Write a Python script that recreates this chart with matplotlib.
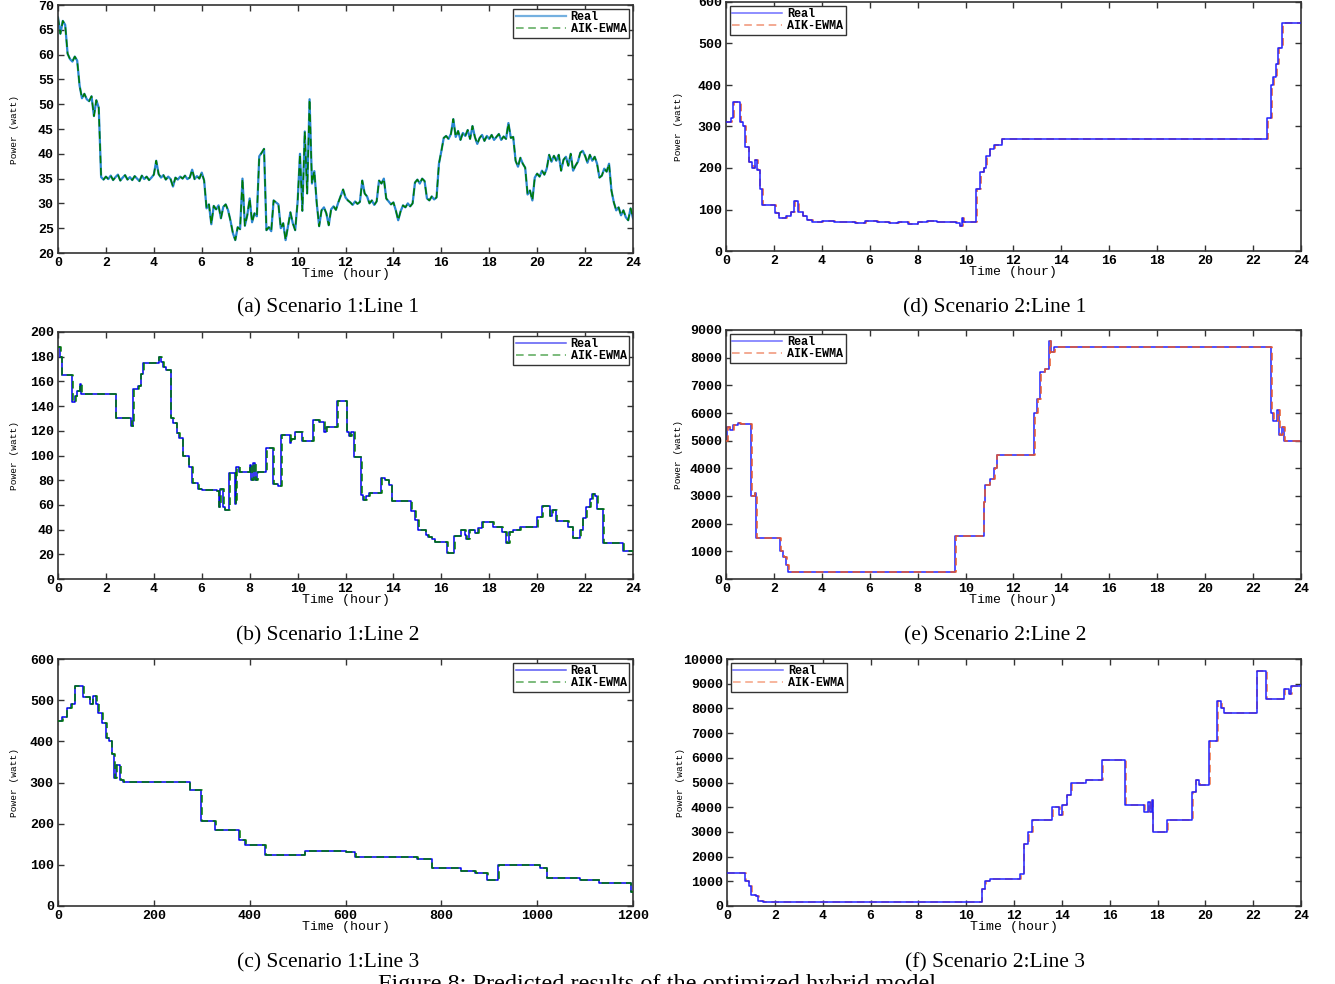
import numpy as np
import matplotlib
matplotlib.use('Agg')
import matplotlib.pyplot as plt

plt.rcParams['font.family'] = ['Liberation Mono', 'DejaVu Sans Mono']
plt.rcParams['font.weight'] = 'bold'

# Scenario 1 line 1 : one value every 0.1 hour (0 .. 24 h)
s1_line1 = [
    67.5, 64.2, 66.8, 66.0, 60.2, 59.1, 58.6, 59.6, 58.8, 53.8,
    51.2, 52.1, 51.0, 50.6, 51.6, 47.6, 50.8, 49.3, 35.3, 34.8,
    35.4, 34.9, 35.6, 34.7, 35.3, 35.8, 34.6, 35.2, 35.7, 34.8,
    35.3, 34.7, 35.5, 35.0, 34.5, 35.6, 34.9, 35.4, 34.7, 35.2,
    35.8, 38.6, 35.9, 35.2, 35.7, 34.8, 35.4, 34.9, 33.4, 35.2,
    34.8, 35.4, 35.0, 35.6, 34.9, 35.2, 36.8, 34.9, 35.5, 35.0,
    36.2, 34.6, 29.0, 29.8, 25.8, 29.5, 28.8, 29.6, 27.0, 29.3,
    29.8, 28.6, 26.5, 24.0, 22.6, 25.2, 24.8, 35.0, 25.5, 27.6,
    31.0, 26.2, 28.0, 27.4, 39.5, 40.2, 41.0, 24.6, 25.2, 24.4,
    30.6, 30.2, 29.8, 25.0, 26.0, 22.6, 25.4, 28.2, 26.0, 24.6,
    30.2, 40.0, 28.5, 44.5, 32.0, 51.0, 34.0, 36.5, 30.0, 25.4,
    28.6, 29.2, 28.0, 25.6, 28.8, 29.4, 28.7, 30.2, 31.5, 32.8,
    31.2, 30.6, 30.2, 29.7, 30.4, 29.9, 30.3, 34.6, 32.0, 31.4,
    30.0, 30.6, 29.7, 30.4, 34.6, 34.0, 35.0, 31.0, 30.4, 29.8,
    30.2, 28.6, 26.6, 28.4, 29.6, 29.2, 30.0, 29.4, 30.0, 34.2,
    34.8, 34.0, 35.0, 34.5, 31.0, 30.6, 31.4, 30.8, 31.2, 38.0,
    40.5, 43.2, 43.6, 43.0, 44.0, 47.0, 43.4, 44.6, 42.8, 44.2,
    43.6, 44.8, 43.0, 45.6, 43.4, 42.0, 43.2, 43.8, 42.6, 43.6,
    43.0, 43.8, 42.8, 43.4, 44.0, 42.8, 43.5, 43.0, 46.2, 43.2,
    43.4, 38.6, 37.4, 39.2, 38.0, 37.2, 31.8, 32.6, 30.6, 35.2,
    36.0, 35.4, 36.6, 35.8, 37.0, 39.8, 38.4, 39.6, 38.6, 39.8,
    36.6, 38.8, 39.4, 37.6, 40.0, 36.6, 37.6, 38.4, 40.2, 40.6,
    39.6, 38.2, 39.8, 38.6, 39.4, 38.0, 35.2, 35.6, 37.0, 36.4,
    38.0, 32.6, 30.2, 28.6, 29.2, 27.6, 28.6, 27.2, 26.6, 29.0,
    27.0,
]

# the other lines are step-like: (time, power) at every change
s1_line2 = [(0, 188), (0.08, 180), (0.15, 165), (0.6, 143), (0.72, 148), (0.8, 152),
            (0.9, 158), (0.98, 150), (2.4, 130), (3.05, 124), (3.15, 154), (3.35, 156),
            (3.45, 166), (3.55, 175), (4.2, 180), (4.3, 176), (4.4, 172), (4.5, 169),
            (4.7, 130), (4.8, 126), (4.95, 118), (5.05, 114), (5.2, 100), (5.45, 91),
            (5.6, 78), (5.85, 73), (6.0, 72), (6.62, 71), (6.7, 58), (6.78, 73),
            (6.88, 58), (6.95, 56), (7.15, 86), (7.4, 61), (7.44, 91), (7.55, 87),
            (8.0, 92), (8.05, 80), (8.15, 94), (8.22, 80), (8.3, 87), (8.7, 106),
            (8.98, 77), (9.2, 75), (9.3, 117), (9.68, 110), (9.72, 113), (9.88, 119),
            (10.2, 112), (10.65, 129), (10.9, 127), (11.1, 119), (11.2, 123), (11.65, 144),
            (12.05, 119), (12.15, 116), (12.25, 119), (12.35, 99), (12.65, 68), (12.75, 64),
            (12.85, 67), (13.0, 70), (13.5, 82), (13.65, 80), (13.8, 76), (13.92, 63),
            (14.75, 55), (14.92, 48), (15.02, 40), (15.35, 36), (15.45, 34), (15.6, 32),
            (15.72, 30), (16.24, 21), (16.52, 35), (16.8, 40), (17.0, 36), (17.05, 32),
            (17.15, 40), (17.4, 37), (17.55, 41), (17.7, 46), (18.15, 42), (18.55, 38),
            (18.7, 29), (18.82, 38), (19.0, 40), (19.3, 42), (20.0, 50), (20.2, 59),
            (20.45, 59), (20.52, 51), (20.62, 56), (20.8, 47), (21.3, 42), (21.48, 33),
            (21.78, 40), (21.9, 49), (22.05, 58), (22.2, 65), (22.3, 69), (22.4, 67),
            (22.5, 57), (22.75, 29), (23.6, 23), (24, 23)]

s1_line3 = [(0, 450), (8, 460), (18, 480), (28, 490), (35, 535), (52, 508), (66, 490),
            (72, 510), (79, 490), (84, 470), (92, 445), (100, 408), (106, 400), (112, 370),
            (117, 311), (122, 342), (130, 305), (136, 302), (275, 282), (298, 206),
            (328, 185), (378, 160), (390, 147), (432, 124), (515, 134), (600, 130),
            (620, 120), (750, 115), (780, 92), (840, 86), (870, 80), (895, 62), (918, 100),
            (1005, 92), (1020, 68), (1090, 63), (1130, 56), (1195, 33), (1200, 33)]

s2_line1 = [(0, 310), (0.2, 320), (0.3, 360), (0.6, 310), (0.7, 300), (0.8, 250),
            (0.95, 215), (1.1, 200), (1.2, 220), (1.3, 195), (1.4, 150), (1.5, 110),
            (2.05, 92), (2.2, 80), (2.5, 84), (2.7, 95), (2.85, 120), (3.0, 95), (3.2, 85),
            (3.4, 75), (3.6, 70), (4.0, 72), (4.5, 69), (5.0, 71), (5.4, 68), (5.8, 72),
            (6.3, 70), (6.8, 68), (7.2, 71), (7.6, 66), (8.0, 70), (8.4, 72), (8.8, 69),
            (9.2, 70), (9.6, 68), (9.75, 60), (9.85, 80), (9.9, 70), (10.45, 150),
            (10.6, 190), (10.75, 200), (10.85, 230), (11.0, 245), (11.2, 255), (11.5, 270),
            (22.6, 320), (22.75, 400), (22.85, 420), (22.95, 450), (23.05, 490),
            (23.2, 550), (24, 550)]

s2_line2 = [(0, 5000), (0.05, 5500), (0.15, 5400), (0.3, 5550), (0.5, 5650), (0.6, 5600),
            (1.05, 3000), (1.2, 3100), (1.25, 1500), (2.25, 1000), (2.4, 800), (2.5, 500),
            (2.6, 250), (9.55, 1550), (10.75, 2800), (10.8, 3400), (11.0, 3600),
            (11.2, 4000), (11.3, 4500), (12.85, 6000), (13.0, 6500), (13.1, 7500),
            (13.3, 7600), (13.5, 8600), (13.55, 8200), (13.7, 8400), (22.75, 6000),
            (22.85, 5700), (23.0, 6100), (23.1, 5200), (23.2, 5500), (23.3, 5000), (24, 5000)]

s2_line3 = [(0, 1350), (0.75, 1000), (0.9, 800), (1.0, 450), (1.2, 400), (1.3, 200),
            (1.5, 150), (10.65, 700), (10.8, 1000), (11.0, 1100), (12.25, 1300),
            (12.4, 2500), (12.6, 3000), (12.75, 3500), (13.6, 4000), (13.9, 3700),
            (14.0, 4100), (14.2, 4500), (14.4, 5000), (15.0, 5100), (15.7, 5900),
            (16.65, 4100), (17.45, 3800), (17.6, 4200), (17.7, 3800), (17.75, 4300),
            (17.8, 3000), (18.4, 3500), (19.45, 4600), (19.6, 5100), (19.75, 4900),
            (20.15, 6700), (20.5, 8300), (20.65, 8000), (20.8, 7800), (22.15, 9500),
            (22.55, 8400), (23.3, 8800), (23.5, 8600), (23.6, 8900), (24, 8950)]

captions = ['(a) Scenario 1:Line 1', '(b) Scenario 1:Line 2', '(c) Scenario 1:Line 3',
            '(d) Scenario 2:Line 1', '(e) Scenario 2:Line 2', '(f) Scenario 2:Line 3']
hour_ticks = list(range(0, 25, 2))

fig = plt.figure(figsize=(13.35, 9.84), dpi=100)

# axes boxes in pixels (left, top, right, bottom) taken from the page
boxes = [(58, 5, 633, 253), (58, 332, 633, 579), (58, 659, 633, 906),
         (726, 2, 1301, 251), (726, 330, 1301, 579), (727, 659, 1301, 906)]
W, H = 1335., 984.
axs = [fig.add_axes([l / W, 1 - b / H, (r - l) / W, (b - t) / H]) for l, t, r, b in boxes]


def style(ax, xlim, xticks, ylim, yticks, ylab_x):
    ax.set_xlim(xlim)
    ax.set_xticks(xticks)
    ax.set_ylim(ylim)
    ax.set_yticks(yticks)
    ax.tick_params(direction='in', top=True, right=True, length=4, width=1,
                   labelsize=9.5, pad=3, color='#333333')
    for s in ax.spines.values():
        s.set_linewidth(1.2)
        s.set_color('#333333')
    ax.set_xlabel('Time (hour)', fontsize=9.5, labelpad=-1)
    ax.set_ylabel('Power (watt)', fontsize=6.8)
    ax.yaxis.set_label_coords(ylab_x, 0.5)


def add_legend(ax, loc):
    leg = ax.legend(loc=loc, fontsize=8.5, handlelength=4.2, fancybox=False,
                    edgecolor='#333333', borderpad=0.25, labelspacing=0.0,
                    borderaxespad=0.3, handletextpad=0.4, framealpha=1)
    leg.get_frame().set_linewidth(1)
    for ln in leg.get_lines():
        ln.set_alpha(0.65)


def steps(ax, data, c_real, c_pred, real_on_top, lag=0.03):
    t = [p[0] for p in data]
    v = [p[1] for p in data]
    tp = [x + lag if x > 0 else x for x in t]   # forecast lags a little behind
    zr, zp = (3, 2) if real_on_top else (2, 3)
    ax.plot(t, v, drawstyle='steps-post', color=c_real, lw=1.1, label='Real', zorder=zr)
    ax.plot(tp, v, drawstyle='steps-post', color=c_pred, lw=1.1, dashes=(5, 3),
            label='AIK-EWMA', zorder=zp)


# (a)
ax = axs[0]
t_a = np.linspace(0, 24, len(s1_line1))
ax.plot(t_a, s1_line1, color='#2a86d0', lw=1.6, label='Real')
ax.plot(t_a, s1_line1, color='#007a00', lw=1.1, dashes=(5, 3), label='AIK-EWMA')
style(ax, (0, 24), hour_ticks, (20, 70), range(20, 71, 5), -0.068)
add_legend(ax, 'upper right')

# (b)
ax = axs[1]
steps(ax, s1_line2, '#0000ee', '#007a00', False)
style(ax, (0, 24), hour_ticks, (0, 200), range(0, 201, 20), -0.068)
add_legend(ax, 'upper right')

# (c) - x axis here runs 0..1200
ax = axs[2]
steps(ax, s1_line3, '#0000ee', '#007a00', False, lag=1.5)
style(ax, (0, 1200), range(0, 1201, 200), (0, 600), range(0, 601, 100), -0.068)
add_legend(ax, 'upper right')

# (d)
ax = axs[3]
steps(ax, s2_line1, '#2222ff', '#e8582a', True)
style(ax, (0, 24), hour_ticks, (0, 600), range(0, 601, 100), -0.074)
add_legend(ax, 'upper left')

# (e)
ax = axs[4]
steps(ax, s2_line2, '#2222ff', '#e8582a', False)
style(ax, (0, 24), hour_ticks, (0, 9000), range(0, 9001, 1000), -0.074)
add_legend(ax, 'upper left')

# (f)
ax = axs[5]
steps(ax, s2_line3, '#2222ff', '#f07040', True)
style(ax, (0, 24), hour_ticks, (0, 10000), range(0, 10001, 1000), -0.074)
add_legend(ax, 'upper left')

# sub captions
cap_pos = [(328, 308), (328, 636), (328, 963), (995, 308), (995, 636), (995, 963)]
for (x, y), txt in zip(cap_pos, captions):
    fig.text(x / W, 1 - y / H, txt, family='Liberation Serif', weight='normal',
             size=15.5, ha='center', va='center')
# the page caption is cut by the bottom edge, as on the page
fig.text(660 / W, 1 - 974 / H, 'Figure 8: Predicted results of the optimized hybrid model.',
         family='Liberation Serif', weight='normal', size=17.5, ha='center', va='top')

fig.savefig('out.png', dpi=100)
